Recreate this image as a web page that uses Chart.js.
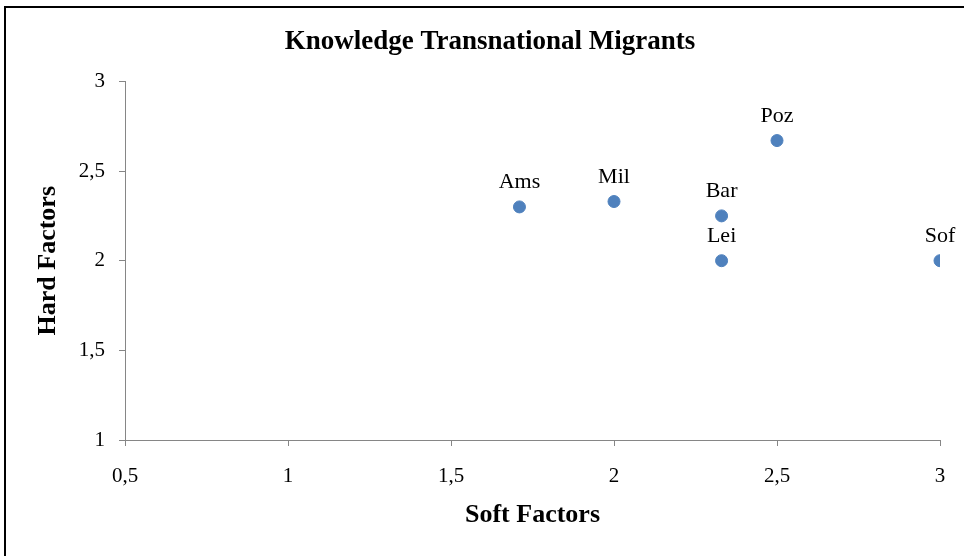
<!DOCTYPE html>
<html>
<head>
<meta charset="utf-8">
<script src="https://cdn.jsdelivr.net/npm/chart.js@4"></script>
<style>
    html, body { margin: 0; padding: 0; background: #fff; overflow: hidden; }
    #wrap { position: relative; width: 964px; height: 556px; }
    #frame {
        position: absolute; left: 4px; top: 6px; right: -4px; bottom: -4px;
        border-top: 2px solid #000; border-left: 2px solid #000;
        pointer-events: none;
    }
    canvas { position: absolute; left: 0; top: 0; }
</style>
</head>
<body>
<div id="wrap">
    <canvas id="migrantChart" width="964" height="556"></canvas>
    <div id="frame"></div>
</div>
<script>
const cities = ["Ams", "Mil", "Bar", "Lei", "Poz", "Sof"];
const softFactors = [1.71, 2.0, 2.33, 2.33, 2.5, 3.0];
const hardFactors = [2.3, 2.33, 2.25, 2.0, 2.67, 2.0];
const xTicks = [0.5, 1, 1.5, 2, 2.5, 3];
const yTicks = [1, 1.5, 2, 2.5, 3];

const serif = "'Liberation Serif', 'Times New Roman', serif";
const axisGray = "#868686";

const commaFmt = (v) => String(v).replace(".", ",");

// labels above each point
const pointLabels = {
    id: "pointLabels",
    afterDatasetsDraw(chart) {
        const ctx = chart.ctx;
        const meta = chart.getDatasetMeta(0);
        ctx.save();
        ctx.font = "22px " + serif;
        ctx.fillStyle = "#000";
        ctx.textAlign = "center";
        ctx.textBaseline = "alphabetic";
        meta.data.forEach((pt, i) => {
            ctx.fillText(cities[i], pt.x, pt.y - 19);
        });
        ctx.restore();
    },
};

const ctx = document.getElementById("migrantChart").getContext("2d");
new Chart(ctx, {
    type: "scatter",
    data: {
        datasets: [
            {
                label: "Knowledge Transnational Migrants",
                data: softFactors.map((x, i) => ({ x: x, y: hardFactors[i] })),
                backgroundColor: "#4F81BD",
                borderColor: "#4F81BD",
                pointRadius: 6,
                pointHoverRadius: 6,
            },
        ],
    },
    options: {
        responsive: false,
        animation: false,
        // left padding pushes the title centre over to where excel put it
        layout: { padding: { top: 0, left: 40, right: 24, bottom: 0 } },
        plugins: {
            legend: { display: false },
            tooltip: { enabled: false },
            title: {
                display: true,
                text: "Knowledge Transnational Migrants",
                color: "#000",
                font: { family: serif, size: 27, weight: "bold" },
                padding: { top: 26, bottom: 23 },
            },
        },
        scales: {
            x: {
                type: "linear",
                min: 0.5,
                max: 3,
                afterBuildTicks: (scale) => {
                    scale.ticks = xTicks.map((v) => ({ value: v }));
                },
                afterFit: (scale) => {
                    scale.height = 116;
                },
                ticks: {
                    color: "#000",
                    font: { family: serif, size: 21 },
                    padding: 18,
                    maxRotation: 0,
                    callback: (v) => commaFmt(v),
                },
                grid: {
                    drawOnChartArea: false,
                    drawTicks: true,
                    tickLength: 6,
                    color: axisGray,
                },
                border: { display: true, color: axisGray },
                title: {
                    display: true,
                    text: "Soft Factors",
                    color: "#000",
                    font: { family: serif, size: 26, weight: "bold" },
                    padding: { top: 0, bottom: 25 },
                },
            },
            y: {
                type: "linear",
                min: 1,
                max: 3,
                afterBuildTicks: (scale) => {
                    scale.ticks = yTicks.map((v) => ({ value: v }));
                },
                afterFit: (scale) => {
                    scale.width = 85;
                },
                ticks: {
                    color: "#000",
                    font: { family: serif, size: 21 },
                    padding: 14,
                    callback: (v) => commaFmt(v),
                },
                grid: {
                    drawOnChartArea: false,
                    drawTicks: true,
                    tickLength: 6,
                    color: axisGray,
                },
                border: { display: true, color: axisGray },
                title: {
                    display: true,
                    text: "Hard Factors",
                    color: "#000",
                    font: { family: serif, size: 26, weight: "bold" },
                    padding: { top: -7, bottom: 0 },
                },
            },
        },
    },
    plugins: [pointLabels],
});
</script>
</body>
</html>
